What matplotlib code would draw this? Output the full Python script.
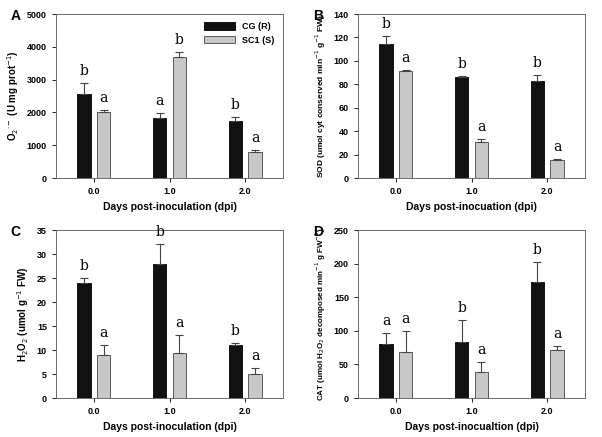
import matplotlib
matplotlib.use("Agg")
import matplotlib.pyplot as plt
import numpy as np

days = ["0.0", "1.0", "2.0"]
A_cg = [2550, 1820, 1750]; A_cg_e = [350, 150, 100]
A_sc = [2000, 3700, 800];  A_sc_e = [70, 150, 60]
A_cg_l = ["b", "a", "b"]; A_sc_l = ["a", "b", "a"]
B_cg = [114, 86, 83]; B_cg_e = [7, 1, 5]
B_sc = [91, 31, 15];  B_sc_e = [1, 2, 1]
B_cg_l = ["b", "b", "b"]; B_sc_l = ["a", "a", "a"]
C_cg = [24, 28, 11]; C_cg_e = [1, 4, 0.5]
C_sc = [9, 9.3, 5];  C_sc_e = [2, 3.8, 1.2]
C_cg_l = ["b", "b", "b"]; C_sc_l = ["a", "a", "a"]
D_cg = [81, 84, 173]; D_cg_e = [15, 32, 30]
D_sc = [69, 39, 71];  D_sc_e = [30, 15, 6]
D_cg_l = ["a", "b", "b"]; D_sc_l = ["a", "a", "a"]

plt.rcParams['font.family'] = ['Liberation Sans', 'DejaVu Sans']
fig = plt.figure(figsize=(6.02, 4.37), dpi=100)

def panel(rect, cg, cge, sc, sce, lcg, lsc, ymax, ystep, ylabel, xlabel, letter, legend=False, ylfs=7):
    ax = fig.add_axes(rect)
    x = np.arange(len(days))
    w = 0.18; off = 0.13
    ax.bar(x - off, cg, w, color="#111111", edgecolor="black", linewidth=0.6, label="CG (R)")
    ax.bar(x + off, sc, w, color="#c8c8c8", edgecolor="#444444", linewidth=0.6, label="SC1 (S)")
    ax.errorbar(x - off, cg, yerr=[np.zeros(3), cge], fmt="none", ecolor="#444444", elinewidth=0.8, capsize=3, capthick=0.8)
    ax.errorbar(x + off, sc, yerr=[np.zeros(3), sce], fmt="none", ecolor="#444444", elinewidth=0.8, capsize=3, capthick=0.8)
    pad = ymax * 0.03
    for xi, v, e, l in zip(x - off, cg, cge, lcg):
        ax.text(xi, v + e + pad, l, ha="center", va="bottom", fontsize=10, family="DejaVu Serif")
    for xi, v, e, l in zip(x + off, sc, sce, lsc):
        ax.text(xi, v + e + pad, l, ha="center", va="bottom", fontsize=10, family="DejaVu Serif")
    ax.set_xlim(-0.5, 2.5); ax.set_ylim(0, ymax)
    ax.set_yticks(np.arange(0, ymax + 1e-9, ystep))
    ax.set_xticks(x); ax.set_xticklabels(days)
    ax.tick_params(labelsize=6.5, direction="out", length=3, width=0.6)
    for lab in ax.get_xticklabels() + ax.get_yticklabels():
        lab.set_fontweight("bold")
    for s in ax.spines.values():
        s.set_linewidth(0.6); s.set_color("#555555")
    ax.set_ylabel(ylabel, fontsize=ylfs, fontweight="bold")
    ax.set_xlabel(xlabel, fontsize=7.5, fontweight="bold")
    fig.text(rect[0] - 0.075, rect[1] + rect[3] - 0.005, letter, fontsize=10, fontweight="bold", va="center")
    if legend:
        ax.legend(loc="upper right", frameon=False, handlelength=3.5, handleheight=0.9, prop={"weight": "bold", "size": 6.5})
    return ax

W, H = 227/602, 164/437
panel([56/602, 1-178/437, W, H], A_cg, A_cg_e, A_sc, A_sc_e, A_cg_l, A_sc_l, 5000, 1000,
      r"O$_2$$^{\cdot-}$ (U mg prot$^{-1}$)", "Days post-inoculation (dpi)", "A", legend=True)
panel([358/602, 1-178/437, W, H], B_cg, B_cg_e, B_sc, B_sc_e, B_cg_l, B_sc_l, 140, 20,
      r"SOD (umol cyt conserved min$^{-1}$ g$^{-1}$ FW)", "Days post-inocuation (dpi)", "B", ylfs=6)
panel([56/602, 1-398/437, W, 168/437], C_cg, C_cg_e, C_sc, C_sc_e, C_cg_l, C_sc_l, 35, 5,
      r"H$_2$O$_2$ (umol g$^{-1}$ FW)", "Days post-inoculation (dpi)", "C")
panel([358/602, 1-398/437, W, 168/437], D_cg, D_cg_e, D_sc, D_sc_e, D_cg_l, D_sc_l, 250, 50,
      r"CAT (umol H$_2$O$_2$ decomposed min$^{-1}$ g FW$^{-1}$)", "Days post-inocualtion (dpi)", "D", ylfs=5.8)
fig.savefig("out.png", dpi=100)
